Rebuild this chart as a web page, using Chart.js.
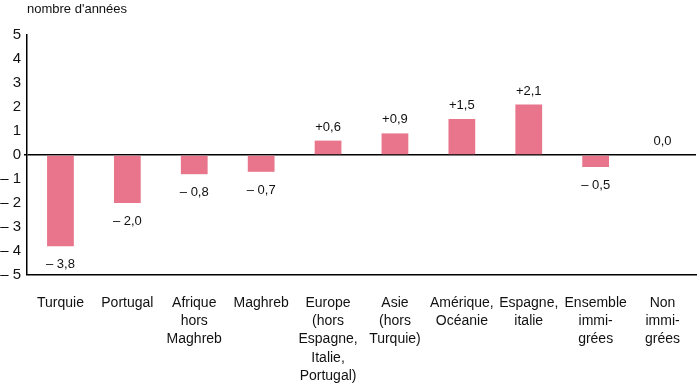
<!DOCTYPE html>
<html>
<head>
<meta charset="utf-8">
<script src="https://cdn.jsdelivr.net/npm/chart.js@4"></script>
<style>
  html, body { margin: 0; padding: 0; background: #fff; }
  #wrap { width: 700px; height: 385px; position: relative; }
</style>
</head>
<body>
<div id="wrap"><canvas id="chart"></canvas></div>
<script>
'use strict';

// ---- data ----
const categories = [
  ['Turquie'],
  ['Portugal'],
  ['Afrique', 'hors', 'Maghreb'],
  ['Maghreb'],
  ['Europe', '(hors', 'Espagne,', 'Italie,', 'Portugal)'],
  ['Asie', '(hors', 'Turquie)'],
  ['Amérique,', 'Océanie'],
  ['Espagne,', 'italie'],
  ['Ensemble', 'immi-', 'grées'],
  ['Non', 'immi-', 'grées']
];
const gapYears = [-3.8, -2.0, -0.8, -0.7, 0.6, 0.9, 1.5, 2.1, -0.5, 0.0];
const yTicks = [5, 4, 3, 2, 1, 0, -1, -2, -3, -4, -5];
const axisTitle = "nombre d'années";

const FONT = "'Liberation Sans', Arial, sans-serif";
const BAR = '#e8758b';

// ---- helpers ----
const fmtTick = (v) => (v < 0 ? '\u2013 ' + Math.abs(v) : String(v));
const fmtVal = (v) => {
  const s = Math.abs(v).toFixed(1).replace('.', ',');
  if (v < 0) return '\u2013 ' + s;
  if (v > 0) return '+' + s;
  return s;
};

// value labels + axis title
const labelPlugin = {
  id: 'valueLabels',
  afterDatasetsDraw(chart) {
    const { ctx } = chart;
    const meta = chart.getDatasetMeta(0);
    ctx.save();
    ctx.fillStyle = '#111';
    ctx.font = '13px ' + FONT;
    ctx.textAlign = 'center';
    meta.data.forEach((bar, i) => {
      const v = gapYears[i];
      if (v < 0) {
        ctx.textBaseline = 'top';
        ctx.fillText(fmtVal(v), bar.x, bar.y + 12);
      } else {
        ctx.textBaseline = 'alphabetic';
        ctx.fillText(fmtVal(v), bar.x, bar.y - 10);
      }
    });
    // axis title
    ctx.textAlign = 'left';
    ctx.textBaseline = 'top';
    ctx.font = '13px ' + FONT;
    ctx.fillText(axisTitle, chart.chartArea.left, 3);
    ctx.restore();
  }
};

new Chart(document.getElementById('chart').getContext('2d'), {
  type: 'bar',
  data: {
    labels: categories,
    datasets: [{
      data: gapYears,
      backgroundColor: BAR,
      borderWidth: 0,
      barPercentage: 0.4,
      categoryPercentage: 1.0
    }]
  },
  plugins: [labelPlugin],
  options: {
    responsive: true,
    maintainAspectRatio: false,
    animation: false,
    layout: { padding: { top: 35, right: 4, left: 0, bottom: 0 } },
    plugins: {
      legend: { display: false },
      tooltip: { enabled: false }
    },
    scales: {
      x: {
        grid: { display: false },
        border: { display: true, color: '#000', width: 1.5 },
        afterFit: (scale) => { scale.height = 110; },
        ticks: {
          color: '#111',
          font: { family: FONT, size: 14, lineHeight: 1.3 },
          maxRotation: 0,
          autoSkip: false,
          padding: 11
        }
      },
      y: {
        min: -5,
        max: 5,
        afterBuildTicks: (scale) => { scale.ticks = yTicks.map(v => ({ value: v })); },
        afterFit: (scale) => { scale.width = 27; },
        border: { display: true, color: '#000', width: 1.5 },
        grid: {
          drawOnChartArea: true,
          color: (c) => (c.tick && c.tick.value === 0 ? '#000' : 'rgba(0,0,0,0)'),
          lineWidth: (c) => (c.tick && c.tick.value === 0 ? 1.5 : 0),
          drawTicks: true,
          tickLength: 3,
          tickColor: '#000'
        },
        ticks: {
          color: '#111',
          font: { family: FONT, size: 15 },
          padding: 3,
          callback: (v) => fmtTick(v)
        }
      }
    }
  }
});
</script>
</body>
</html>
